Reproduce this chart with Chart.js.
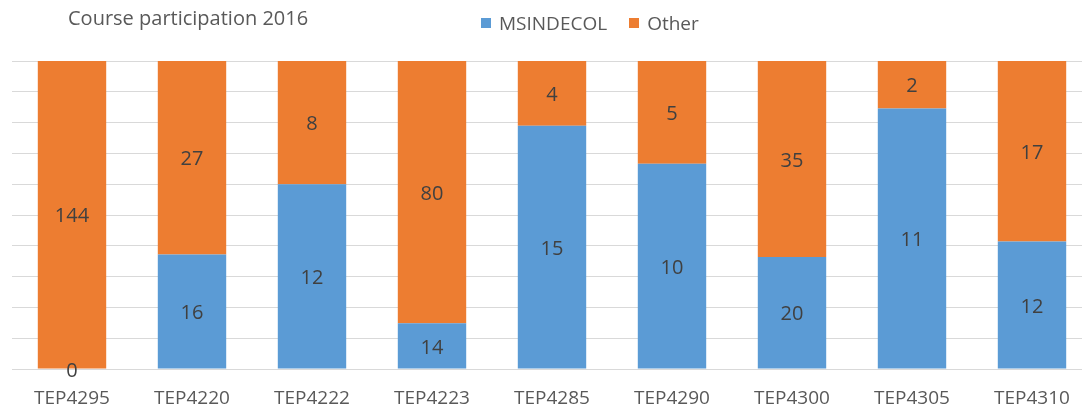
<!DOCTYPE html>
<html lang="en">
<head>
    <meta charset="utf-8">
    <title>Course participation 2016</title>
    <style>
        html, body { margin: 0; padding: 0; background: #fff; overflow: hidden; }
        #wrap { position: relative; width: 1092px; height: 407px; }
        .txt { position: absolute; font-family: "Open Sans", sans-serif; color: #595959; white-space: nowrap; }
        #title { left: 68px; top: 6px; line-height: 24px; font-size: 20px; }
        #legend { left: 481px; top: 11px; line-height: 24px; font-size: 19px; display: flex; align-items: center; }
        #legend i { display: inline-block; width: 10px; height: 10px; margin-right: 8px; }
        #legend span + i { margin-left: 22px; }
    </style>
</head>
<body>
    <div id="wrap">
        <canvas id="chart" width="1092" height="407"></canvas>
        <div id="title" class="txt">Course participation 2016</div>
        <div id="legend" class="txt"></div>
    </div>

    <script src="https://cdn.jsdelivr.net/npm/chart.js"></script>
    <script>
        const courses = ["TEP4295", "TEP4220", "TEP4222", "TEP4223", "TEP4285", "TEP4290", "TEP4300", "TEP4305", "TEP4310"];
        const msindecol = [0, 16, 12, 14, 15, 10, 20, 11, 12];
        const other = [144, 27, 8, 80, 4, 5, 35, 2, 17];

        const totals = courses.map((_, i) => msindecol[i] + other[i]);
        const toShare = arr => arr.map((v, i) => v / totals[i] * 100);

        // draws the raw counts in the middle of each segment
        const countLabels = {
            id: 'countLabels',
            afterDatasetsDraw(chart) {
                const ctx = chart.ctx;
                ctx.save();
                ctx.font = '20px "Open Sans", sans-serif';
                ctx.fillStyle = '#404040';
                ctx.textAlign = 'center';
                ctx.textBaseline = 'middle';
                chart.data.datasets.forEach((ds, d) => {
                    chart.getDatasetMeta(d).data.forEach((bar, i) => {
                        const mid = (bar.y + bar.base) / 2 + 2;
                        ctx.fillText(String(ds.counts[i]), bar.x, mid);
                    });
                });
                ctx.restore();
            }
        };

        const chart = new Chart(document.getElementById("chart"), {
            type: 'bar',
            data: {
                labels: courses,
                datasets: [
                    { label: 'MSINDECOL', data: toShare(msindecol), counts: msindecol, backgroundColor: '#5B9BD5' },
                    { label: 'Other', data: toShare(other), counts: other, backgroundColor: '#ED7D31' }
                ]
            },
            options: {
                responsive: false,
                animation: false,
                layout: { padding: { left: 12, right: 0, top: 61, bottom: 1 } },
                datasets: { bar: { categoryPercentage: 1, barPercentage: 0.57 } },
                scales: {
                    x: {
                        stacked: true,
                        grid: { display: false },
                        border: { display: false },
                        ticks: { color: '#595959', font: { family: '"Open Sans", sans-serif', size: 19 }, padding: 10 },
                        afterFit(scale) { scale.height = 37; }
                    },
                    y: {
                        stacked: true,
                        min: 0, max: 100,
                        ticks: { display: false, stepSize: 10 },
                        grid: { color: '#d9d9d9', lineWidth: 1, drawTicks: false },
                        border: { display: false }
                    }
                },
                plugins: {
                    legend: { display: false },
                    tooltip: { enabled: false }
                }
            },
            plugins: [countLabels]
        });

        // legend built from the chart's own datasets
        const legend = document.getElementById("legend");
        chart.data.datasets.forEach(ds => {
            const box = document.createElement("i");
            box.style.background = ds.backgroundColor;
            const name = document.createElement("span");
            name.textContent = ds.label;
            legend.append(box, name);
        });
    </script>
</body>
</html>
